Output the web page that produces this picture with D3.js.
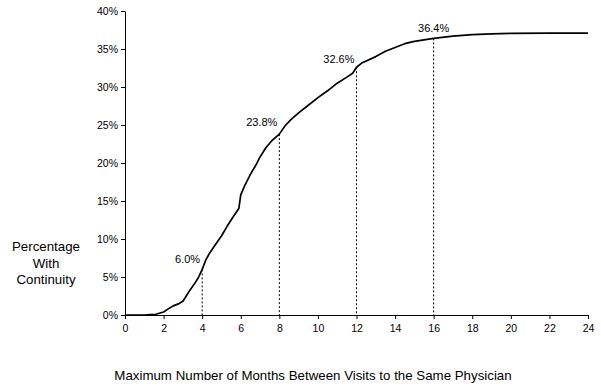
<!DOCTYPE html>
<html>
<head>
<meta charset="utf-8">
<script src="https://cdn.jsdelivr.net/npm/d3@7"></script>
<style>
body { margin: 0; background: #fff; }
text { font-family: "Liberation Sans", Arial, sans-serif; fill: #000; }
.axis path, .axis line { stroke: #000; }
</style>
</head>
<body>
<div id="chart"></div>
<script>
// months between visits vs cumulative percentage with continuity
var months = [0, 1.0, 1.3, 1.6, 2.0, 2.3, 2.5, 2.8, 3.0, 3.2, 3.4, 3.6, 3.8, 4.0, 4.2, 4.4, 4.7, 5.0, 5.3, 5.6, 5.9, 6.0, 6.2, 6.5, 6.8, 7.0, 7.3, 7.6, 8.0, 8.3, 8.6, 9.0, 9.5, 10.0, 10.5, 11.0, 11.5, 11.8, 12.0, 12.3, 13.0, 13.5, 14.0, 14.5, 15.0, 15.5, 16.0, 17.0, 18.0, 19.0, 20.0, 22.0, 24.0];
var pct = [0, 0, 0.05, 0.1, 0.4, 0.9, 1.2, 1.5, 1.8, 2.6, 3.4, 4.1, 4.9, 6.0, 7.3, 8.2, 9.3, 10.4, 11.7, 12.9, 14.0, 15.8, 17.0, 18.5, 19.8, 20.8, 22.0, 22.9, 23.8, 24.9, 25.7, 26.6, 27.6, 28.6, 29.5, 30.5, 31.3, 31.8, 32.6, 33.2, 34.0, 34.7, 35.2, 35.7, 36.0, 36.2, 36.4, 36.7, 36.9, 37.0, 37.05, 37.1, 37.1];
var markMonths = [4, 8, 12, 16];
var markPct = [6.0, 23.8, 32.6, 36.4];
var xTicks = [0, 2, 4, 6, 8, 10, 12, 14, 16, 18, 20, 22, 24];
var yTicks = [0, 5, 10, 15, 20, 25, 30, 35, 40];

var margin = {top: 11, right: 13, bottom: 73, left: 125};
var width = 601 - margin.left - margin.right;
var height = 388 - margin.top - margin.bottom;

var svg = d3.select("#chart").append("svg")
	.attr("width", 601)
	.attr("height", 388);

var g = svg.append("g")
	.attr("transform", "translate(" + margin.left + "," + margin.top + ")");

var x = d3.scaleLinear().domain([0, 24]).range([0, width]);
var y = d3.scaleLinear().domain([0, 40]).range([height, 0]);

g.append("g")
	.attr("class", "axis")
	.attr("transform", "translate(0," + height + ")")
	.call(d3.axisBottom(x).tickValues(xTicks).tickSize(4).tickSizeOuter(0))
	.selectAll("text")
	.attr("dy", "0.95em")
	.style("font-size", "10.5px");

g.append("g")
	.attr("class", "axis")
	.call(d3.axisLeft(y).tickValues(yTicks).tickSize(4).tickSizeOuter(0)
		.tickFormat(function(d) { return d + "%"; }))
	.selectAll("text")
	.style("font-size", "10.5px");

// dashed drop lines
g.selectAll(".drop")
	.data(markMonths)
	.enter()
	.append("line")
	.attr("class", "drop")
	.attr("x1", function(d) { return x(d); })
	.attr("x2", function(d) { return x(d); })
	.attr("y1", function(d, i) { return y(markPct[i]); })
	.attr("y2", y(0))
	.attr("stroke", "#000")
	.attr("stroke-width", 1)
	.attr("stroke-dasharray", "2,2");

var line = d3.line()
	.x(function(d, i) { return x(months[i]); })
	.y(function(d) { return y(d); });

g.append("path")
	.datum(pct)
	.attr("fill", "none")
	.attr("stroke", "#000")
	.attr("stroke-width", 1.7)
	.attr("stroke-linejoin", "round")
	.attr("d", line);

var labelDx = [-2, -2, -2, 0];
var labelDy = [-6, -8, -4, -6];
var labelAnchor = ["end", "end", "end", "middle"];
g.selectAll(".mark")
	.data(markPct)
	.enter()
	.append("text")
	.attr("class", "mark")
	.attr("x", function(d, i) { return x(markMonths[i]) + labelDx[i]; })
	.attr("y", function(d) { return y(d); })
	.attr("dy", function(d, i) { return labelDy[i]; })
	.attr("text-anchor", function(d, i) { return labelAnchor[i]; })
	.style("font-size", "11px")
	.text(function(d) { return d.toFixed(1) + "%"; });

var ylab = svg.append("text")
	.attr("text-anchor", "middle")
	.style("font-size", "13.3px");
["Percentage", "With", "Continuity"].forEach(function(s, i) {
	ylab.append("tspan").attr("x", 46).attr("y", 251 + i * 16.5).text(s);
});

svg.append("text")
	.attr("text-anchor", "middle")
	.attr("x", 313)
	.attr("y", 380)
	.style("font-size", "13.3px")
	.text("Maximum Number of Months Between Visits to the Same Physician");
</script>
</body>
</html>
